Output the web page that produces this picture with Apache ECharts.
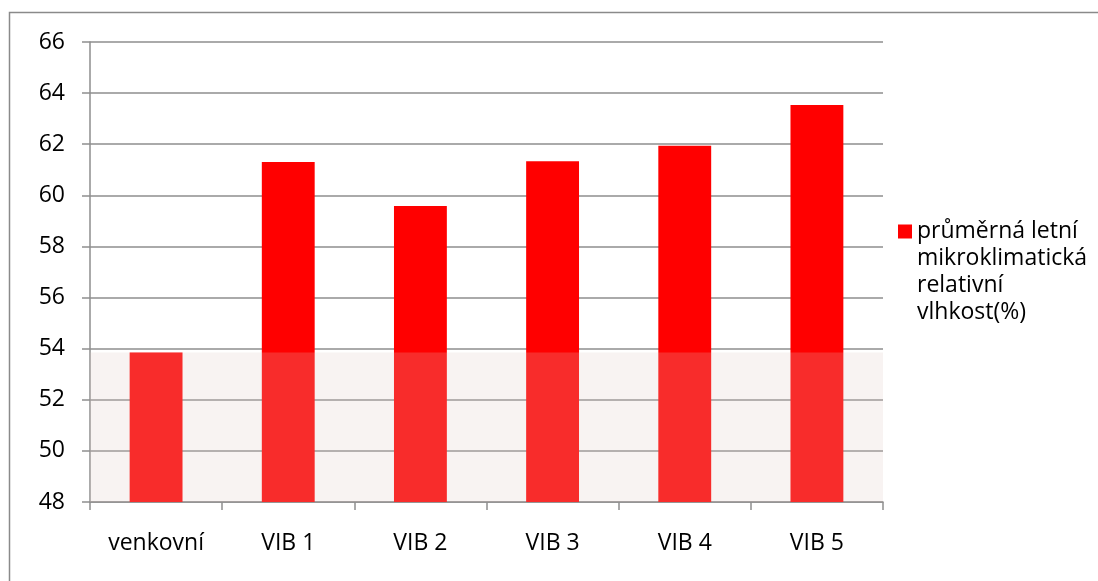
<!DOCTYPE html>
<html>
<head>
<meta charset="utf-8">
<script src="https://cdn.jsdelivr.net/npm/echarts@6/dist/echarts.min.js"></script>
<style>
  html, body { margin: 0; padding: 0; background: #fff; }
  #chart { width: 1098px; height: 581px; }
</style>
</head>
<body>
<div id="chart"></div>
<script>
// Average summer microclimate relative humidity per site
const categories = ['venkovní', 'VIB 1', 'VIB 2', 'VIB 3', 'VIB 4', 'VIB 5'];
const humidity = [53.85, 61.30, 59.58, 61.33, 61.94, 63.53];
const seriesName = 'průměrná letní\nmikroklimatická\nrelativní\nvlhkost(%)';
const yMin = 48, yMax = 66, yStep = 2;

// Outdoor value used as the reference band across all sites
const outdoor = humidity[0];

const FONT = '"Open Sans", "Liberation Sans", sans-serif';
const GRID_GRAY = '#8e8e8e';

const chart = echarts.init(document.getElementById('chart'), null, { renderer: 'canvas' });

chart.setOption({
  animation: false,
  backgroundColor: '#ffffff',
  textStyle: { fontFamily: FONT },
  graphic: [{
    type: 'rect',
    shape: { x: 9.5, y: 12.5, width: 1200, height: 700 },
    style: { fill: 'none', stroke: '#8a8a8a', lineWidth: 1.5 },
    silent: true,
    z: 0
  }],
  grid: { left: 90, right: 215, top: 42, bottom: 79, containLabel: false },
  xAxis: {
    type: 'category',
    data: categories,
    boundaryGap: true,
    axisLine: { show: true, lineStyle: { color: GRID_GRAY, width: 1.5 } },
    axisTick: { show: true, length: 8, inside: false, lineStyle: { color: GRID_GRAY, width: 1.5 } },
    axisLabel: { color: '#000', fontSize: 23, fontFamily: FONT, margin: 30 },
    splitLine: { show: false }
  },
  yAxis: {
    type: 'value',
    min: yMin,
    max: yMax,
    interval: yStep,
    axisLine: { show: true, lineStyle: { color: GRID_GRAY, width: 1.5 } },
    axisTick: { show: true, length: 8, inside: false, lineStyle: { color: GRID_GRAY, width: 1.5 } },
    axisLabel: { color: '#000', fontSize: 23, fontFamily: FONT, margin: 25 },
    splitLine: { show: true, lineStyle: { color: GRID_GRAY, width: 1.5 } }
  },
  legend: {
    show: true,
    orient: 'vertical',
    left: 898,
    top: 137,
    padding: 0,
    itemWidth: 14,
    itemHeight: 14,
    itemGap: 0,
    icon: 'rect',
    // leading blank lines keep the marker level with the first text line
    formatter: (name) => '\n\n\n' + name,
    textStyle: {
      color: '#000',
      fontSize: 23,
      fontFamily: FONT,
      lineHeight: 27
    },
    data: [seriesName]
  },
  series: [{
    name: seriesName,
    type: 'bar',
    data: humidity,
    barWidth: '40%',
    itemStyle: { color: '#ff0000' },
    z: 2,
    markArea: {
      silent: true,
      z: 3,
      itemStyle: { color: 'rgba(222, 200, 196, 0.22)' },
      data: [[{ yAxis: yMin }, { yAxis: outdoor }]]
    }
  }]
});
</script>
</body>
</html>
